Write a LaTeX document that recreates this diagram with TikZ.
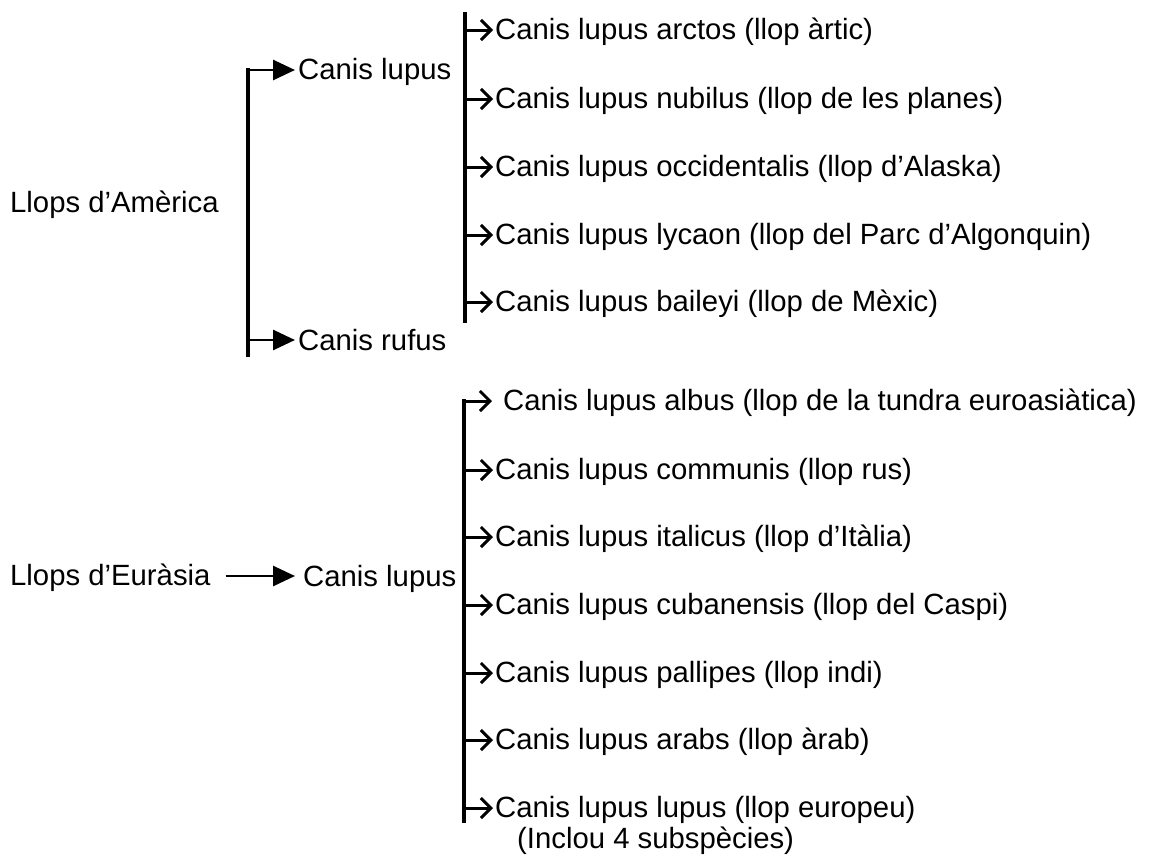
\documentclass[tikz,border=0pt]{standalone}
\usepackage{fontspec}
\setmainfont{Liberation Sans}
\usetikzlibrary{arrows.meta}
\begin{document}
\begin{tikzpicture}[x=1pt,y=-1pt,
  txt/.style={anchor=base west,inner sep=0pt,font=\fontsize{29.3}{33.7}\selectfont},
  bar/.style={line width=3.6pt},
  fillarrow/.style={line width=2.8pt,-{Triangle[length=22pt,width=20pt]}},
  subarrow/.style={line width=3pt,-{Straight Barb[length=10pt,width=20pt,line width=3pt]}}]
\useasboundingbox (0,0) rectangle (1150,855);

% ---- America ----
\node[txt] (amer) at (10,212) {Llops d’Amèrica};
\node[txt] (cla) at (298,79) {Canis lupus};
\node[txt] (ru) at (298,350) {Canis rufus};
\coordinate (abot) at (248,357);
\coordinate (aru) at (248,340);
\draw[bar] (abot) -- (248,68.2);
\draw[fillarrow] (248,70) -- ([xshift=-3pt,yshift=9pt]cla.base west);
\draw[fillarrow] (aru) -- ([xshift=-3pt,yshift=10pt]ru.base west);

\coordinate (stop) at (465,12);
\coordinate (sbot) at (465,323);
\draw[bar] (stop) -- (sbot);
\foreach \y/\n/\t in {30/a1/{Canis lupus arctos (llop àrtic)},
                      99/a2/{Canis lupus nubilus (llop de les planes)},
                      167/a3/{Canis lupus occidentalis (llop d’Alaska)},
                      235/a4/{Canis lupus lycaon (llop del Parc d’Algonquin)},
                      302/a5/{Canis lupus baileyi (llop de Mèxic)}}{
  \node[txt] (\n) at (495,\y+9) {\t};
  \coordinate (\n s) at (465,\y);
  \draw[subarrow] (\n s) -- ([xshift=-2pt,yshift=9pt]\n.base west);
}

% ---- Eurasia ----
\node[txt] (eur) at (10,585) {Llops d’Euràsia};
\node[txt] (cle) at (303,586) {Canis lupus};
\draw[fillarrow] ([xshift=15pt,yshift=9pt]eur.base east) -- ([xshift=-8pt,yshift=10pt]cle.base west);

\coordinate (etop) at (464,401);
\coordinate (ebot) at (464,823);
\node[txt] (e1) at (503,410) {Canis lupus albus (llop de la tundra euroasiàtica)};
\draw[bar] (ebot) -- (464,399.2);
\draw[subarrow] (462.2,401) -- ([xshift=-11pt,yshift=9pt]e1.base west);
\foreach \y/\n/\t in {470/e2/{Canis lupus communis (llop rus)},
                      537/e3/{Canis lupus italicus (llop d’Itàlia)},
                      605/e4/{Canis lupus cubanensis (llop del Caspi)},
                      673/e5/{Canis lupus pallipes (llop indi)},
                      740/e6/{Canis lupus arabs (llop àrab)},
                      808/e7/{Canis lupus lupus (llop europeu)}}{
  \node[txt] (\n) at (495,\y+9) {\t};
  \coordinate (\n s) at (464,\y);
  \draw[subarrow] (\n s) -- ([xshift=-2pt,yshift=9pt]\n.base west);
}
\node[txt] (incl) at (517,848) {(Inclou 4 subspècies)};
\end{tikzpicture}
\end{document}
